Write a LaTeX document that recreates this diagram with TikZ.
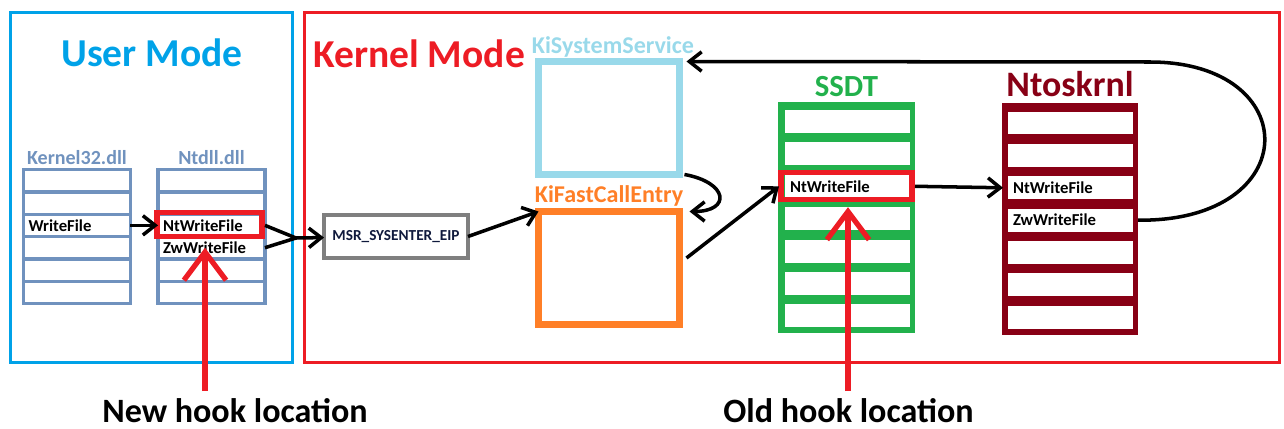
\documentclass[tikz,border=0pt]{standalone}
\usepackage{fontspec}
\setmainfont{Carlito}
\usetikzlibrary{positioning,arrows.meta}

\definecolor{umblue}{RGB}{0,162,232}
\definecolor{kmred}{RGB}{237,28,36}
\definecolor{dllblue}{RGB}{112,146,190}
\definecolor{ksblue}{RGB}{153,217,234}
\definecolor{kforange}{RGB}{255,127,39}
\definecolor{ssdtgreen}{RGB}{34,177,76}
\definecolor{ntred}{RGB}{136,0,21}
\definecolor{msrgray}{RGB}{127,127,127}
\definecolor{msrtext}{RGB}{15,25,60}

\newcommand\rowfont{\fontsize{9.5}{11}\selectfont\bfseries}

\tikzstyle{mode} = [rectangle, line width=1.7pt, minimum height=7cm, inner sep=0pt, outer sep=0pt]
\tikzstyle{title} = [anchor=base, inner sep=0pt, font=\fontsize{22.5}{26}\selectfont\bfseries]
\tikzstyle{dllrow} = [rectangle, draw=dllblue, line width=1.9pt, text width=1.94cm, minimum height=0.4467cm, inner xsep=0.1cm, inner ysep=0pt, outer sep=0pt, align=left, font=\rowfont]
\tikzstyle{dlllabel} = [inner sep=0pt, text=dllblue, font=\fontsize{11.4}{13}\selectfont\bfseries]
\tikzstyle{kbox} = [rectangle, line width=4pt, minimum width=2.82cm, minimum height=2.26cm, outer sep=0pt]
\tikzstyle{klabel} = [inner sep=0pt, font=\fontsize{13.7}{15}\selectfont\bfseries]
\tikzstyle{msrbox} = [rectangle, draw=msrgray, line width=2.3pt, minimum width=2.88cm, minimum height=0.86cm, outer sep=0pt, text=msrtext, font=\fontsize{8.7}{10}\selectfont\bfseries]
\tikzstyle{tbl} = [rectangle, minimum width=2.74cm, minimum height=4.62cm, outer sep=0pt]
\tikzstyle{slot} = [rectangle, fill=white, text width=2.3cm, minimum height=0.46cm, inner xsep=0.1cm, inner ysep=0pt, outer sep=0pt, align=left, font=\rowfont]
\tikzstyle{tbllabel} = [inner sep=0pt, font=\fontsize{17.5}{20}\selectfont\bfseries]
\tikzstyle{hookbox} = [draw=kmred, line width=3pt]
\tikzstyle{arrow} = [line width=2pt, -{Straight Barb[length=7pt,width=11pt]}]
\tikzstyle{hookarrow} = [line width=3pt, draw=kmred, -{Straight Barb[length=16pt,width=24pt]}]
\tikzstyle{hooktext} = [anchor=base, inner sep=0pt, font=\fontsize{19.4}{22}\selectfont\bfseries]

\begin{document}
\begin{tikzpicture}[x=0.02cm, y=-0.02cm, node distance=0.188cm]
\useasboundingbox (0,0) rectangle (1284,429);

% user and kernel frames
\node (user) [mode, draw=umblue, minimum width=5.64cm] at (151.5,187.5) {};
\node (kernel) [mode, draw=kmred, minimum width=19.5cm] at (792,187.5) {};
\node (usertitle) [title, text=umblue] at (152,67) {User Mode};
\node (kerneltitle) [title, text=kmred, anchor=base west] at (313,68) {Kernel Mode};

% Kernel32.dll
\node (kdll1) [dllrow] at (77,180.7) {};
\node (kdll2) [dllrow, below=0pt of kdll1] {};
\node (kdll3) [dllrow, below=0pt of kdll2] {WriteFile};
\node (kdll4) [dllrow, below=0pt of kdll3] {};
\node (kdll5) [dllrow, below=0pt of kdll4] {};
\node (kdll6) [dllrow, below=0pt of kdll5] {};
\node (k32) [dlllabel, above=0.09cm of kdll1] {Kernel32.dll};

% Ntdll.dll
\node (ndll1) [dllrow] at (211.5,180.7) {};
\node (ndll2) [dllrow, below=0pt of ndll1] {};
\node (ndll3) [dllrow, below=0pt of ndll2] {NtWriteFile};
\node (ndll4) [dllrow, below=0pt of ndll3] {ZwWriteFile};
\node (ndll5) [dllrow, below=0pt of ndll4] {};
\node (ndll6) [dllrow, below=0pt of ndll5] {};
\node (ntdll) [dlllabel, above=0.09cm of ndll1] {Ntdll.dll};
\draw [hookbox] ([xshift=-0.02cm,yshift=0.03cm]ndll3.north west) rectangle ([xshift=-0.06cm]ndll3.south east);

% MSR
\node (msr) [msrbox] at (396,236.5) {MSR\_SYSENTER\_EIP};

% KiSystemService and KiFastCallEntry
\node (kss) [kbox, draw=ksblue] at (609,118) {};
\node (kssl) [klabel, text=ksblue, above=0.07cm of kss, xshift=0.08cm] {KiSystemService};
\node (kfc) [kbox, draw=kforange] at (609,268) {};
\node (kfcl) [klabel, text=kforange, above=0.09cm of kfc] {KiFastCallEntry};

% SSDT
\node (ssdt) [tbl, fill=ssdtgreen] at (846.5,217.5) {};
\node (ssdt1) [slot] at (847.5,121.5) {};
\node (ssdt2) [slot, below=of ssdt1] {};
\node (ssdt3) [slot, below=of ssdt2] {NtWriteFile};
\node (ssdt4) [slot, below=of ssdt3] {};
\node (ssdt5) [slot, below=of ssdt4] {};
\node (ssdt6) [slot, below=of ssdt5] {};
\node (ssdt7) [slot, below=of ssdt6] {};
\node (ssdtl) [tbllabel, text=ssdtgreen, above=0.1cm of ssdt] {SSDT};
\draw [hookbox] ([xshift=-0.08cm,yshift=0.04cm]ssdt3.north west) rectangle ([xshift=0.04cm,yshift=-0.04cm]ssdt3.south east);

% Ntoskrnl
\node (ntk) [tbl, fill=ntred, minimum width=2.72cm, minimum height=4.64cm] at (1070,219) {};
\node (ntk1) [slot] at (1070.5,123) {};
\node (ntk2) [slot, below=of ntk1] {};
\node (ntk3) [slot, below=of ntk2] {NtWriteFile};
\node (ntk4) [slot, below=of ntk3] {ZwWriteFile};
\node (ntk5) [slot, below=of ntk4] {};
\node (ntk6) [slot, below=of ntk5] {};
\node (ntk7) [slot, below=of ntk6] {};
\node (ntkl) [tbllabel, text=ntred, above=0.12cm of ntk, font=\fontsize{20.4}{23}\selectfont\bfseries] {Ntoskrnl};

% call path
\coordinate (join) at (296,238);
\draw [arrow] (kdll3) -- (ndll3);
\draw [line width=2pt] (ndll3.east) -- (join);
\draw [line width=2pt] (ndll4.east) -- (join);
\draw [arrow] (join) -- (msr);
\draw [arrow] (msr.east) -- (kfc.north west);
\draw [arrow] ([xshift=0.1cm]kss.south east) .. controls +(44,8) and +(42,0) .. ([xshift=0.2cm]kfc.north east);
\draw [arrow] ([xshift=0.14cm,yshift=0.2cm]kfc.east) -- ([xshift=-0.12cm]ssdt3.west);
\draw [arrow] ([xshift=0.1cm]ssdt3.east) -- ([xshift=-0.1cm]ntk3.west);
\draw [arrow] ([xshift=0.1cm]ntk4.east) .. controls (1305,222) and (1305,62) .. (1150,62) -- ([xshift=0.14cm]kss.north east);

% hook locations
\coordinate (newhook) at (205,391);
\coordinate (oldhook) at (848,391);
\draw [hookarrow] (newhook) -- (newhook |- ndll4.center);
\draw [hookarrow] (oldhook) -- (oldhook |- ssdt4.north);
\node (newtext) [hooktext] at (235,422) {New hook location};
\node (oldtext) [hooktext] at (848.5,422) {Old hook location};
\end{tikzpicture}
\end{document}
